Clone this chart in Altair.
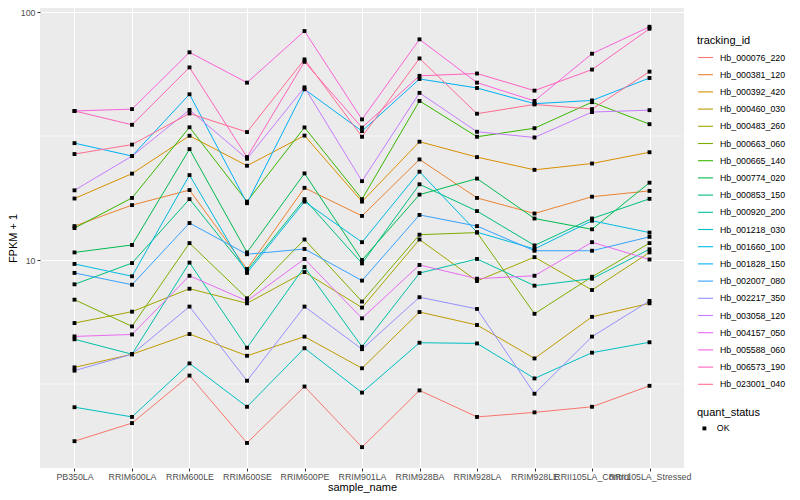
import altair as alt
import pandas as pd

samples = ["PB350LA", "RRIM600LA", "RRIM600LE", "RRIM600SE", "RRIM600PE", "RRIM901LA",
           "RRIM928BA", "RRIM928LA", "RRIM928LE", "RRII105LA_Control", "RRII105LA_Stressed"]

tracking_ids = ["Hb_000076_220", "Hb_000381_120", "Hb_000392_420", "Hb_000460_030",
                "Hb_000483_260", "Hb_000663_060", "Hb_000665_140", "Hb_000774_020",
                "Hb_000853_150", "Hb_000920_200", "Hb_001218_030", "Hb_001660_100",
                "Hb_001828_150", "Hb_002007_080", "Hb_002217_350", "Hb_003058_120",
                "Hb_004157_050", "Hb_005588_060", "Hb_006573_190", "Hb_023001_040"]

# FPKM + 1 per sample, one list per transcript
hb_000076_220 = [1.86, 2.20, 3.42, 1.83, 3.09, 1.76, 2.98, 2.33, 2.43, 2.56, 3.11]
hb_000381_120 = [13.7, 16.65, 19.15, 9.2, 19.55, 15.06, 25.45, 17.8, 15.4, 18.0, 19.0]
hb_000392_420 = [17.7, 22.3, 31.7, 24.0, 31.75, 17.2, 30.0, 26.0, 23.1, 24.5, 27.2]
hb_000460_030 = [3.69, 4.17, 5.03, 4.11, 4.91, 3.66, 6.17, 5.47, 4.01, 5.90, 6.69]
hb_000483_260 = [5.57, 6.19, 7.66, 6.69, 8.94, 6.43, 12.1, 8.23, 10.27, 7.57, 10.73]
hb_000663_060 = [6.92, 5.40, 11.7, 7.01, 12.1, 6.80, 12.65, 12.9, 6.07, 8.56, 11.7]
hb_000665_140 = [13.45, 17.8, 34.3, 17.2, 34.25, 17.6, 43.8, 31.4, 34.0, 43.3, 35.3]
hb_000774_020 = [10.73, 11.5, 28.0, 10.73, 22.35, 10.0, 18.35, 21.3, 14.7, 13.3, 20.5]
hb_000853_150 = [7.98, 9.72, 17.6, 9.05, 17.6, 9.69, 20.2, 15.75, 11.45, 14.7, 17.65]
hb_000920_200 = [4.79, 4.17, 9.76, 4.43, 9.37, 4.47, 8.86, 10.1, 7.88, 8.41, 11.05]
hb_001218_030 = [2.55, 2.33, 3.83, 2.56, 4.41, 2.92, 4.64, 4.61, 3.33, 4.23, 4.66]
hb_001660_100 = [9.64, 8.60, 22.0, 8.87, 17.2, 11.8, 22.7, 12.95, 11.08, 14.4, 12.9]
hb_001828_150 = [29.6, 26.25, 46.6, 16.95, 48.8, 33.1, 53.7, 49.4, 42.7, 44.0, 54.2]
hb_002007_080 = [8.87, 7.95, 14.1, 10.55, 11.08, 8.26, 15.2, 13.7, 10.9, 10.9, 12.4]
hb_002217_350 = [3.58, 4.17, 6.49, 3.26, 6.49, 4.37, 7.08, 6.35, 2.89, 4.91, 6.84]
hb_003058_120 = [19.1, 26.25, 40.3, 25.6, 49.7, 20.8, 47.2, 32.9, 31.2, 39.5, 40.2]
hb_004157_050 = [4.92, 5.01, 8.64, 6.84, 10.1, 5.82, 9.55, 8.41, 8.64, 11.8, 10.05]
hb_005588_060 = [39.9, 40.6, 68.8, 51.9, 83.8, 36.9, 77.6, 51.9, 43.8, 67.9, 87.2]
hb_006573_190 = [39.9, 35.1, 59.8, 26.0, 63.0, 34.2, 55.3, 56.5, 48.2, 58.6, 85.6]
hb_023001_040 = [26.75, 29.2, 39.0, 32.8, 64.4, 31.4, 65.0, 38.9, 42.4, 40.6, 57.5]

series = [hb_000076_220, hb_000381_120, hb_000392_420, hb_000460_030, hb_000483_260,
          hb_000663_060, hb_000665_140, hb_000774_020, hb_000853_150, hb_000920_200,
          hb_001218_030, hb_001660_100, hb_001828_150, hb_002007_080, hb_002217_350,
          hb_003058_120, hb_004157_050, hb_005588_060, hb_006573_190, hb_023001_040]

quant_status = "OK"
y_ticks = [10, 100]
y_minor = [3.1623, 31.623]

colors = ["#F8766D", "#EA8331", "#D89000", "#C09B00", "#A3A500", "#7CAE00", "#39B600",
          "#00BB4E", "#00BF7D", "#00C1A3", "#00BFC4", "#00BAE0", "#00B0F6", "#35A2FF",
          "#9590FF", "#C77CFF", "#E76BF3", "#FA62DB", "#FF62BC", "#FF6C91"]

rows = []
for tid, vals in zip(tracking_ids, series):
    for s, v in zip(samples, vals):
        rows.append({"tracking_id": tid, "sample_name": s, "fpkm1": v,
                     "quant_status": quant_status})
df = pd.DataFrame(rows)

FONT = "Liberation Sans"

x_enc = alt.X("sample_name:N", sort=samples,
              scale=alt.Scale(type="point", padding=0.6),
              axis=alt.Axis(title="sample_name", labelAngle=0, labelOverlap=False,
                            labelBound=False, labelFlush=False, domain=False,
                            grid=True, gridColor="white", gridWidth=1.1,
                            ticks=True, tickColor="#333333", tickSize=3, tickWidth=1,
                            labelColor="#4D4D4D", labelFontSize=8.8, labelFont=FONT,
                            labelPadding=1, titleFont=FONT, titleFontSize=11,
                            titleFontWeight="normal", titleColor="black", titlePadding=1))

y_scale = alt.Scale(type="log", domain=[1.45, 103.8], nice=False, zero=False)

y_axis = alt.Axis(title="FPKM + 1", values=y_ticks, format="d", domain=False,
                  grid=True, gridColor="white", gridWidth=1.1,
                  ticks=True, tickColor="#333333", tickSize=3, tickWidth=1,
                  labelColor="#4D4D4D", labelFontSize=8.8, labelFont=FONT,
                  labelPadding=2, titleFont=FONT, titleFontSize=11,
                  titleFontWeight="normal", titleColor="black", titlePadding=2)

y_enc = alt.Y("fpkm1:Q", scale=y_scale, axis=y_axis)

minor = alt.Chart(pd.DataFrame({"fpkm1": y_minor})).mark_rule(
    color="white", strokeWidth=0.55
).encode(y=y_enc)

lines = alt.Chart(df).mark_line(strokeWidth=1).encode(
    x=x_enc, y=y_enc,
    color=alt.Color("tracking_id:N",
                    scale=alt.Scale(domain=tracking_ids, range=colors),
                    legend=alt.Legend(title="tracking_id", orient="none",
                                      legendX=657, legendY=27,
                                      symbolType="stroke", symbolSize=225,
                                      symbolStrokeWidth=1.1, rowPadding=3.2,
                                      titlePadding=3, labelOffset=6, padding=0,
                                      labelFont=FONT, labelFontSize=8.8, labelColor="black",
                                      titleFont=FONT, titleFontSize=11,
                                      titleFontWeight="normal", titleColor="black")),
)

points = alt.Chart(df).mark_point(filled=True, size=15, opacity=1, color="black").encode(
    x=alt.X("sample_name:N", sort=samples), y=alt.Y("fpkm1:Q"),
    shape=alt.Shape("quant_status:N", scale=alt.Scale(range=["square"]),
                    legend=alt.Legend(title="quant_status", orient="none",
                                      legendX=657, legendY=399,
                                      symbolFillColor="black", symbolStrokeColor="black",
                                      symbolSize=15, symbolOffset=3,
                                      titlePadding=6, labelOffset=8, padding=0,
                                      labelFont=FONT, labelFontSize=8.8, labelColor="black",
                                      titleFont=FONT, titleFontSize=11,
                                      titleFontWeight="normal", titleColor="black")),
)

chart = alt.layer(minor, lines, points).properties(
    width=644, height=460,
    autosize=alt.AutoSizeParams(type="none"),
    padding={"left": 32, "top": 0, "right": 108, "bottom": 26},
    background="white",
).configure_view(fill="#EBEBEB", stroke=None)

chart.save("out.html", embed_options={"renderer": "svg", "actions": False})
